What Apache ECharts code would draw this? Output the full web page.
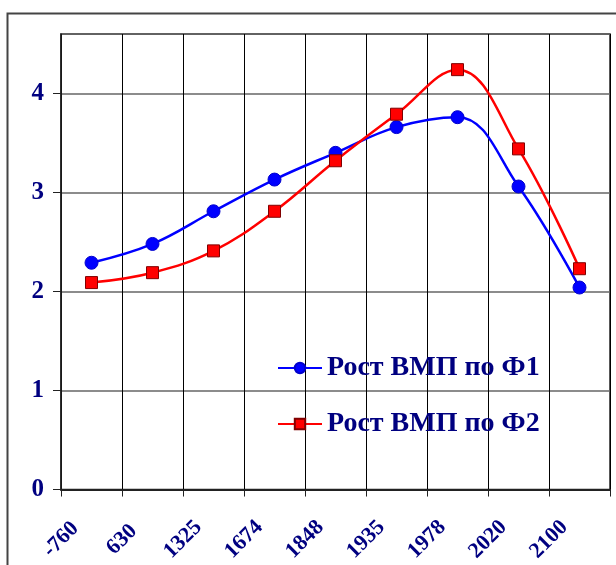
<!DOCTYPE html>
<html>
<head>
<meta charset="utf-8">
<script src="https://cdn.jsdelivr.net/npm/echarts@6/dist/echarts.min.js"></script>
<style>
  html, body { margin: 0; padding: 0; background: #fff; }
  #chartDiv { width: 616px; height: 565px; }
</style>
</head>
<body>
<div id="chartDiv"></div>
<script>
// годы (подписи оси X)
var years = ['-760', '630', '1325', '1674', '1848', '1935', '1978', '2020', '2100'];
// рост ВМП по двум формулам
var growthF1 = [2.29, 2.48, 2.81, 3.13, 3.40, 3.66, 3.76, 3.06, 2.04];
var growthF2 = [2.09, 2.19, 2.41, 2.81, 3.32, 3.79, 4.24, 3.44, 2.23];
var seriesNames = ['Рост ВМП по Ф1', 'Рост ВМП по Ф2'];

var navy = '#000080';
var font = 'Liberation Serif';

var myChart = echarts.init(document.getElementById('chartDiv'));
var option = {
    animation: false,
    // внешняя рамка
    graphic: [{
        type: 'rect',
        left: 5, top: 11,
        shape: { width: 640, height: 600 },
        style: { fill: 'none', stroke: '#444', lineWidth: 2 },
        z: -1
    }],
    grid: {
        left: 61, right: 6, top: 34, bottom: 75,
        show: true,
        borderColor: '#222',
        borderWidth: 1.5
    },
    legend: {
        orient: 'vertical',
        left: 272, top: 349,
        itemWidth: 44, itemHeight: 13,
        itemGap: 28,
        data: seriesNames,
        textStyle: { color: navy, fontFamily: font, fontWeight: 'bold', fontSize: 28 }
    },
    xAxis: [{
        // ось для данных (точки в центрах категорий)
        type: 'category',
        data: years,
        boundaryGap: true,
        show: false
    }, {
        // ось для подписей и сетки (на границах категорий)
        type: 'category',
        data: years.concat(['']),
        boundaryGap: false,
        position: 'bottom',
        axisLine: { lineStyle: { color: '#222', width: 2 } },
        axisTick: { show: true, length: 7, lineStyle: { color: '#222' } },
        splitLine: { show: true, lineStyle: { color: '#000', width: 1 } },
        axisLabel: {
            rotate: 45,
            align: 'center',
            verticalAlign: 'middle',
            margin: 50,
            interval: 0,
            color: navy, fontFamily: font, fontWeight: 'bold', fontSize: 22
        }
    }],
    yAxis: {
        type: 'value',
        min: 0, max: 4.6, interval: 1,
        axisLine: { show: true, lineStyle: { color: '#222', width: 1.5 } },
        axisTick: { show: true, length: 8, lineStyle: { color: '#222' } },
        splitLine: { lineStyle: { color: '#666', width: 1.5 } },
        axisLabel: {
            margin: 17,
            showMaxLabel: false,
            formatter: function (v) { return v % 1 === 0 ? String(v) : ''; },
            color: navy, fontFamily: font, fontWeight: 'bold', fontSize: 25
        }
    },
    series: [{
        name: seriesNames[0],
        type: 'line',
        xAxisIndex: 0,
        data: growthF1,
        smooth: 0.4,
        symbol: 'circle',
        symbolSize: 13,
        lineStyle: { color: '#0000ff', width: 2.5 },
        itemStyle: { color: '#0000ff', borderColor: '#0000cc', borderWidth: 1 }
    }, {
        name: seriesNames[1],
        type: 'line',
        xAxisIndex: 0,
        data: growthF2,
        smooth: 0.4,
        symbol: 'rect',
        symbolSize: 12,
        lineStyle: { color: '#ff0000', width: 2.5 },
        itemStyle: { color: '#ff0000', borderColor: '#800000', borderWidth: 1 }
    }]
};
myChart.setOption(option);
window.onresize = myChart.resize;
</script>
</body>
</html>
